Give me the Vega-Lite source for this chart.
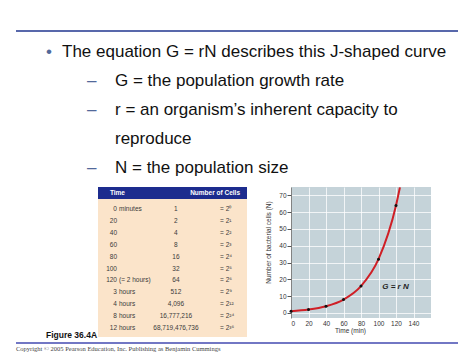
{
  "$schema": "https://vega.github.io/schema/vega-lite/v6.json",
  "padding": 0,
  "spacing": 0,
  "background": "white",
  "config": {"view": {"stroke": null}, "font": "Liberation Sans", "axis": {"labelOverlap": false}},
  "datasets": {
    "one": [{}],
    "table": [
      {"row": 1, "num": "0", "unit": "minutes", "cells": "1", "power": "= 2⁰"},
      {"row": 2, "num": "20", "unit": "", "cells": "2", "power": "= 2¹"},
      {"row": 3, "num": "40", "unit": "", "cells": "4", "power": "= 2²"},
      {"row": 4, "num": "60", "unit": "", "cells": "8", "power": "= 2³"},
      {"row": 5, "num": "80", "unit": "", "cells": "16", "power": "= 2⁴"},
      {"row": 6, "num": "100", "unit": "", "cells": "32", "power": "= 2⁵"},
      {"row": 7, "num": "120", "unit": "(= 2 hours)", "cells": "64", "power": "= 2⁶"},
      {"row": 8, "num": "3", "unit": "hours", "cells": "512", "power": "= 2⁹"},
      {"row": 9, "num": "4", "unit": "hours", "cells": "4,096", "power": "= 2¹²"},
      {"row": 10, "num": "8", "unit": "hours", "cells": "16,777,216", "power": "= 2²⁴"},
      {"row": 11, "num": "12", "unit": "hours", "cells": "68,719,476,736", "power": "= 2³⁶"}
    ],
    "dots": [
      {"t": 0, "n": 1}, {"t": 20, "n": 2}, {"t": 40, "n": 4}, {"t": 60, "n": 8},
      {"t": 80, "n": 16}, {"t": 100, "n": 32}, {"t": 120, "n": 64}
    ],
    "curve": [
      {"t": 0, "n": 1}, {"t": 20, "n": 2}, {"t": 40, "n": 4}, {"t": 60, "n": 8},
      {"t": 80, "n": 16}, {"t": 100, "n": 32}, {"t": 120, "n": 64}, {"t": 124.5, "n": 74.8}
    ]
  },
  "vconcat": [
    {
      "width": 474,
      "height": 183,
      "data": {"values": [
        {"line": 1, "level": 0, "marker": "•", "text": "The equation G = rN describes this J-shaped curve"},
        {"line": 2, "level": 1, "marker": "–", "text": "G = the population growth rate"},
        {"line": 3, "level": 1, "marker": "–", "text": "r = an organism’s inherent capacity to"},
        {"line": 4, "level": 1, "marker": "", "text": "reproduce"},
        {"line": 5, "level": 1, "marker": "–", "text": "N = the population size"}
      ]},
      "resolve": {"scale": {"x": "independent"}},
      "layer": [
        {
          "data": {"name": "one"},
          "mark": {"type": "rule", "color": "#5868ab", "strokeWidth": 2},
          "encoding": {
            "x": {"datum": 0, "type": "quantitative", "scale": {"domain": [0, 1], "range": [16, 458]}, "axis": null},
            "x2": {"datum": 1},
            "y": {"datum": 0.107, "type": "quantitative", "scale": {"domain": [0, 5], "range": [27.9, 173.4], "nice": false, "zero": false}, "axis": null}
          }
        },
        {
          "mark": {"type": "text", "align": "left", "baseline": "alphabetic", "fontSize": 17, "color": "#52699a"},
          "encoding": {
            "x": {"field": "level", "type": "quantitative", "scale": {"domain": [0, 1], "range": [46, 87]}, "axis": null},
            "y": {"field": "line", "type": "quantitative", "scale": {"domain": [0, 5], "range": [27.9, 173.4], "nice": false, "zero": false}, "axis": null},
            "text": {"field": "marker"}
          }
        },
        {
          "mark": {"type": "text", "align": "left", "baseline": "alphabetic", "fontSize": 17, "color": "#111111"},
          "encoding": {
            "x": {"field": "level", "type": "quantitative", "scale": {"domain": [0, 1], "range": [62, 115]}, "axis": null},
            "y": {"field": "line", "type": "quantitative", "scale": {"domain": [0, 5], "range": [27.9, 173.4], "nice": false, "zero": false}, "axis": null},
            "text": {"field": "text"}
          }
        }
      ]
    },
    {
      "hconcat": [
        {
          "width": 291,
          "height": 153,
          "data": {"name": "table"},
          "layer": [
            {
              "data": {"name": "one"},
              "mark": {"type": "rect", "color": "#fbe4ca"},
              "encoding": {
                "x": {"datum": 0, "type": "quantitative", "scale": {"domain": [0, 1], "range": [98, 247]}, "axis": null},
                "x2": {"datum": 1},
                "y": {"datum": 0.16, "type": "quantitative", "scale": {"domain": [0, 11], "range": [10.1, 141], "nice": false, "zero": false}, "axis": null},
                "y2": {"datum": 11.76}
              }
            },
            {
              "data": {"name": "one"},
              "mark": {"type": "rect", "color": "#1d2c8e"},
              "encoding": {
                "x": {"datum": 0, "type": "quantitative"},
                "x2": {"datum": 1},
                "y": {"datum": -0.85, "type": "quantitative"},
                "y2": {"datum": 0.16}
              }
            },
            {
              "data": {"values": [{"label": "Time"}]},
              "mark": {"type": "text", "align": "left", "baseline": "middle", "fontSize": 6.5, "fontWeight": "bold", "color": "#ffffff"},
              "encoding": {
                "x": {"datum": 0.08, "type": "quantitative"},
                "y": {"datum": -0.345, "type": "quantitative"},
                "text": {"field": "label"}
              }
            },
            {
              "data": {"values": [{"label": "Number of Cells"}]},
              "mark": {"type": "text", "align": "right", "baseline": "middle", "fontSize": 6.5, "fontWeight": "bold", "color": "#ffffff"},
              "encoding": {
                "x": {"datum": 0.953, "type": "quantitative"},
                "y": {"datum": -0.345, "type": "quantitative"},
                "text": {"field": "label"}
              }
            },
            {
              "mark": {"type": "text", "align": "right", "baseline": "middle", "fontSize": 6.5, "color": "#3a3a3a"},
              "encoding": {
                "x": {"datum": 0.1275, "type": "quantitative"},
                "y": {"field": "row", "type": "quantitative"},
                "text": {"field": "num"}
              }
            },
            {
              "mark": {"type": "text", "align": "left", "baseline": "middle", "fontSize": 6.5, "color": "#3a3a3a"},
              "encoding": {
                "x": {"datum": 0.141, "type": "quantitative"},
                "y": {"field": "row", "type": "quantitative"},
                "text": {"field": "unit"}
              }
            },
            {
              "mark": {"type": "text", "align": "center", "baseline": "middle", "fontSize": 6.5, "color": "#3a3a3a"},
              "encoding": {
                "x": {"datum": 0.523, "type": "quantitative"},
                "y": {"field": "row", "type": "quantitative"},
                "text": {"field": "cells"}
              }
            },
            {
              "mark": {"type": "text", "align": "left", "baseline": "middle", "fontSize": 6.5, "color": "#3a3a3a"},
              "encoding": {
                "x": {"datum": 0.819, "type": "quantitative"},
                "y": {"field": "row", "type": "quantitative"},
                "text": {"field": "power"}
              }
            },
            {
              "data": {"values": [{"label": "Figure 36.4A"}]},
              "mark": {"type": "text", "align": "left", "baseline": "alphabetic", "fontSize": 8.5, "fontWeight": "bold", "color": "#111111"},
              "encoding": {
                "x": {"datum": -0.349, "type": "quantitative"},
                "y": {"datum": 11.84, "type": "quantitative"},
                "text": {"field": "label"}
              }
            }
          ]
        },
        {
          "width": 140,
          "height": 131,
          "view": {"fill": "#c5d3d9", "stroke": null},
          "layer": [
            {
              "data": {"name": "curve"},
              "mark": {"type": "line", "color": "#cf1f26", "strokeWidth": 2, "interpolate": "monotone"},
              "encoding": {
                "x": {"field": "t", "type": "quantitative",
                  "scale": {"domain": [0, 160], "nice": false, "zero": false},
                  "axis": {
                    "title": "Time (min)",
                    "values": [0, 20, 40, 60, 80, 100, 120, 140], "tickCount": 20,
                    "labelOverlap": false, "labelBound": false,
                    "grid": true, "gridColor": "#ffffff", "gridOpacity": 0.75, "gridWidth": 1,
                    "ticks": false, "domain": false,
                    "labelPadding": 2, "labelFontSize": 6.5, "labelColor": "#333333", "labelFont": "Liberation Sans",
                    "titleFontSize": 6.5, "titleFontWeight": "normal", "titleColor": "#333333", "titleFont": "Liberation Sans",
                    "titleX": 59, "titleY": 9, "titleBaseline": "top", "titleAlign": "center"
                  }},
                "y": {"field": "n", "type": "quantitative",
                  "scale": {"domain": [-3, 75], "nice": false, "zero": false},
                  "axis": {
                    "title": "Number of bacterial cells (N)",
                    "values": [0, 10, 20, 30, 40, 50, 60, 70], "tickCount": 20,
                    "labelOverlap": false, "labelBound": false,
                    "grid": true, "gridColor": "#ffffff", "gridOpacity": 0.75, "gridWidth": 1,
                    "ticks": true, "tickSize": 4, "tickColor": "#555555",
                    "domain": true, "domainColor": "#666666", "domainWidth": 0.8,
                    "labelPadding": 1, "labelFontSize": 6.5, "labelColor": "#333333", "labelFont": "Liberation Sans",
                    "titleFontSize": 6.5, "titleFontWeight": "normal", "titleColor": "#333333", "titleFont": "Liberation Sans",
                    "titleX": -20, "titleY": 55, "titleAngle": 270, "titleBaseline": "bottom", "titleAlign": "center"
                  }}
              }
            },
            {
              "data": {"name": "dots"},
              "mark": {"type": "circle", "color": "#111111", "size": 9, "opacity": 1},
              "encoding": {
                "x": {"field": "t", "type": "quantitative"},
                "y": {"field": "n", "type": "quantitative"}
              }
            },
            {
              "data": {"values": [{"label": "G = r N"}]},
              "mark": {"type": "text", "fontStyle": "italic", "fontWeight": "bold", "fontSize": 8, "color": "#222222", "align": "center", "baseline": "middle"},
              "encoding": {
                "x": {"datum": 119.4, "type": "quantitative"},
                "y": {"datum": 15.5, "type": "quantitative"},
                "text": {"field": "label"}
              }
            }
          ]
        }
      ],
      "spacing": 0,
      "bounds": "flush"
    },
    {
      "width": 474,
      "height": 19,
      "data": {"values": [{"label": "Copyright © 2005 Pearson Education, Inc. Publishing as Benjamin Cummings"}]},
      "layer": [
        {
          "mark": {"type": "rule", "color": "#7277c4", "strokeWidth": 2},
          "encoding": {
            "x": {"datum": 0, "type": "quantitative", "scale": {"domain": [0, 1], "range": [16, 458]}, "axis": null},
            "x2": {"datum": 1},
            "y": {"datum": 0, "type": "quantitative", "scale": {"domain": [0, 1], "range": [3, 11]}, "axis": null}
          }
        },
        {
          "mark": {"type": "text", "align": "left", "baseline": "alphabetic", "font": "Liberation Serif", "fontSize": 6.5, "color": "#444444"},
          "encoding": {
            "x": {"datum": 0, "type": "quantitative"},
            "y": {"datum": 1, "type": "quantitative"},
            "text": {"field": "label"}
          }
        }
      ]
    }
  ]
}
